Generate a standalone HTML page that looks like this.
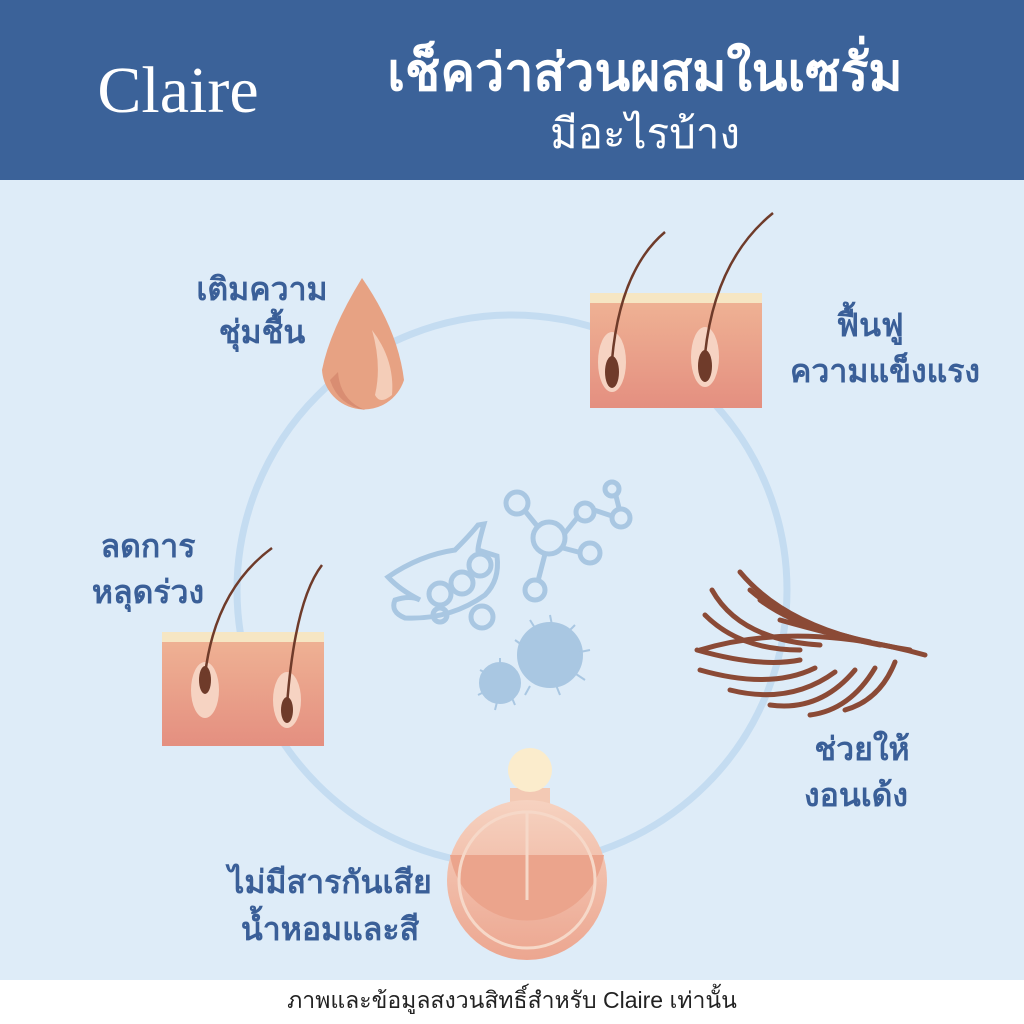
<!DOCTYPE html>
<html><head><meta charset="utf-8"><style>
body{margin:0;width:1024px;height:1024px;overflow:hidden;font-family:"Liberation Sans","Noto Sans CJK SC",sans-serif;}
</style></head><body>
<svg width="1024" height="1024" viewBox="0 0 1024 1024" xmlns="http://www.w3.org/2000/svg" style="display:block">
<defs>
<linearGradient id="sk" x1="0" y1="0" x2="0" y2="1"><stop offset="0" stop-color="#efb294"/><stop offset="1" stop-color="#e48f80"/></linearGradient>
<linearGradient id="bt" x1="0" y1="0" x2="0" y2="1"><stop offset="0" stop-color="#f6d2c0"/><stop offset="1" stop-color="#eca690"/></linearGradient>
</defs>
<rect width="1024" height="1024" fill="#fff"/>
<rect width="1024" height="180" fill="#3b6299"/>
<rect y="180" width="1024" height="800" fill="#deecf8"/>
<text x="178" y="112" fill="#fff" font-family="Liberation Serif,serif" font-size="66" text-anchor="middle">Claire</text>
<text x="645" y="90" fill="#fff" font-size="52" font-weight="bold" text-anchor="middle" font-family="Liberation Sans,Noto Sans CJK SC,sans-serif">เช็คว่าส่วนผสมในเซรั่ม</text>
<text x="645" y="148" fill="#fff" font-size="42" text-anchor="middle" font-family="Liberation Sans,Noto Sans CJK SC,sans-serif">มีอะไรบ้าง</text>
<circle cx="512" cy="590" r="275" fill="none" stroke="#c4dcf1" stroke-width="7"/>
<g fill="none" stroke="#a9c7e2" stroke-width="5">
<circle cx="549" cy="538" r="16"/><circle cx="517" cy="503" r="11"/><circle cx="585" cy="512" r="9"/><circle cx="612" cy="489" r="7"/><circle cx="621" cy="518" r="9"/><circle cx="590" cy="553" r="10"/><circle cx="535" cy="590" r="10"/>
<path d="M525 511L538 527M565 533L577 518M594 510L612 516M616 496L619 508M563 548L582 553M545 554L538 581"/>
<path d="M388 577Q420 555 455 550Q470 535 478 525L484 524Q478 545 478 550L497 556Q500 580 485 595Q450 620 405 618Q390 612 395 600Q410 595 420 600Q400 590 388 577Z"/>
<circle cx="440" cy="594" r="11"/><circle cx="462" cy="583" r="11"/><circle cx="480" cy="565" r="11"/><circle cx="440" cy="615" r="7"/><circle cx="482" cy="617" r="11"/>
</g>
<g fill="#a9c7e2" stroke="#a9c7e2" stroke-width="2">
<circle cx="550" cy="655" r="32"/><circle cx="500" cy="683" r="20"/>
<path d="M550 615L552 625M575 625L568 632M590 650L580 652M585 680L576 674M560 695L556 685M525 695L530 686M515 640L522 645M530 620L535 628M500 658L500 665M480 670L486 673M478 695L484 692M495 710L497 702M515 705L512 698"/>
</g>
<path d="M362 278Q330 330 322 370A42 42 0 0 0 404 380Q398 330 362 278Z" fill="#e7a283"/>
<path d="M372 330Q395 360 392 395Q380 405 375 395Q382 365 372 330Z" fill="#f4cdb8"/>
<path d="M338 372Q340 400 365 410Q338 405 330 380Z" fill="#d98d72"/>
<rect x="590" y="300" width="172" height="108" fill="url(#sk)"/>
<rect x="590" y="293" width="172" height="10" fill="#f6e6c3"/>
<g fill="#f6d3c2"><ellipse cx="612" cy="362" rx="14" ry="30"/><ellipse cx="705" cy="357" rx="14" ry="30"/></g>
<g fill="#6f3b2a"><ellipse cx="612" cy="372" rx="7" ry="16"/><ellipse cx="705" cy="366" rx="7" ry="16"/></g>
<path d="M612 360Q620 270 665 232M705 354Q715 260 773 213" stroke="#6f3b2a" stroke-width="2.5" fill="none"/>
<rect x="162" y="638" width="162" height="108" fill="url(#sk)"/>
<rect x="162" y="632" width="162" height="10" fill="#f6e6c3"/>
<g fill="#f6d3c2"><ellipse cx="205" cy="690" rx="14" ry="28"/><ellipse cx="287" cy="700" rx="14" ry="28"/></g>
<g fill="#6f3b2a"><ellipse cx="205" cy="680" rx="6" ry="14"/><ellipse cx="287" cy="710" rx="6" ry="13"/></g>
<path d="M205 675Q215 590 272 548M287 705Q295 600 322 565" stroke="#6f3b2a" stroke-width="2.5" fill="none"/>
<g stroke="#8b4a36" stroke-width="5" fill="none" stroke-linecap="round">
<path d="M700 650Q800 620 925 655"/>
<path d="M740 572Q780 620 860 640M712 590Q740 640 820 645M705 615Q740 650 800 650M697 650Q760 668 800 660M700 670Q770 690 815 668M730 690Q790 705 835 672M770 705Q820 712 855 670M810 715Q850 710 875 668M845 710Q880 700 895 662"/>
<path d="M760 600Q800 630 880 645M780 620Q850 640 910 650M750 590Q790 625 870 642"/>
</g>
<rect x="510" y="788" width="40" height="26" fill="#f3c9b4"/>
<circle cx="530" cy="770" r="22" fill="#fbeccc"/>
<circle cx="527" cy="880" r="80" fill="url(#bt)"/>
<path d="M450 855H604A78 78 0 0 1 450 855Z" fill="#eba48c"/>
<circle cx="527" cy="880" r="68" fill="none" stroke="#f6d8c8" stroke-width="3"/>
<path d="M527 812V900M522 812H532" stroke="#f6d8c8" stroke-width="3"/>
<g fill="#3a5f98" font-size="32" font-weight="bold" font-family="Liberation Sans,Noto Sans CJK SC,sans-serif">
<text x="262" y="300" text-anchor="middle">เติมความ</text>
<text x="262" y="343" text-anchor="middle">ชุ่มชื้น</text>
<text x="870" y="336" text-anchor="middle">ฟื้นฟู</text>
<text x="885" y="382" text-anchor="middle">ความแข็งแรง</text>
<text x="148" y="557" text-anchor="middle">ลดการ</text>
<text x="148" y="603" text-anchor="middle">หลุดร่วง</text>
<text x="862" y="760" text-anchor="middle">ช่วยให้</text>
<text x="856" y="806" text-anchor="middle">งอนเด้ง</text>
<text x="330" y="893" text-anchor="middle">ไม่มีสารกันเสีย</text>
<text x="330" y="940" text-anchor="middle">น้ำหอมและสี</text>
</g>
<text x="512" y="1008" fill="#222" font-size="23" text-anchor="middle" font-family="Liberation Sans,Noto Sans CJK SC,sans-serif">ภาพและข้อมูลสงวนสิทธิ์สำหรับ Claire เท่านั้น</text>
</svg>
</body></html>
